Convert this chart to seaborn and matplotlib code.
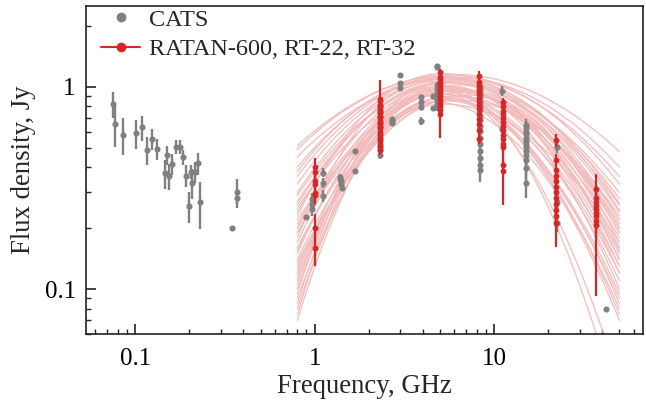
import numpy as np
import pandas as pd
import matplotlib
matplotlib.use("Agg")
import matplotlib.pyplot as plt
from matplotlib.lines import Line2D
from matplotlib.ticker import FixedLocator, FixedFormatter, LogLocator, NullFormatter
import seaborn as sns

# ---- CATS catalogue: low-frequency measurements (GHz, Jy) ----
cats_lf_freq = [0.0755, 0.0774, 0.0858, 0.1005, 0.109, 0.1166, 0.1243, 0.1325,
                0.1457, 0.1507, 0.154, 0.1606, 0.169, 0.1766, 0.184, 0.192,
                0.1995, 0.204, 0.2075, 0.2155, 0.223, 0.2309, 0.344, 0.37, 0.37]
cats_lf_flux = [0.821, 0.652, 0.577, 0.588, 0.630, 0.487, 0.551, 0.494,
                0.373, 0.458, 0.362, 0.415, 0.505, 0.505, 0.448, 0.363,
                0.258, 0.380, 0.335, 0.380, 0.418, 0.268, 0.201, 0.301, 0.283]
cats_lf_err = [0.12, 0.15, 0.12, 0.095, 0.09, 0.075, 0.065, 0.06,
               0.06, 0.05, 0.055, 0.05, 0.04, 0.04, 0.04, 0.045,
               0.045, 0.03, 0.055, 0.045, 0.05, 0.07, 0.0, 0.05, 0.02]

# ---- CATS catalogue: centimetre-band measurements (GHz, Jy) ----
cats_hf_freq = [0.89, 0.97, 0.97, 0.97, 1.11, 1.11, 1.11,
                1.39, 1.39, 1.40, 1.41, 1.42, 1.67, 1.67,
                2.3, 2.3, 2.3, 2.3, 2.3, 2.3, 2.3, 2.3, 2.3, 2.3,
                2.7, 2.7, 2.7, 3.0, 3.0, 3.0,
                3.9, 3.9, 3.9, 3.9, 4.55, 4.55,
                4.8, 4.8, 4.8, 4.8, 4.8, 4.8, 4.8, 4.8, 4.8,
                8.4, 8.4, 8.4, 8.4, 8.4, 8.4, 8.4, 8.4, 8.4, 8.4, 8.4, 8.4,
                8.4, 8.4, 8.4, 8.4, 8.4,
                11.1, 11.1,
                15.0, 15.0, 15.0, 15.0, 15.0, 15.0, 15.0, 15.0, 15.0, 15.0,
                15.0, 15.0, 15.0,
                22.5, 22.5, 22.5, 42.0]
cats_hf_flux = [0.228, 0.278, 0.262, 0.250, 0.376, 0.335, 0.288,
                0.359, 0.350, 0.342, 0.330, 0.317, 0.483, 0.383,
                0.80, 0.75, 0.71, 0.66, 0.63, 0.58, 0.55, 0.51, 0.486, 0.46,
                0.69, 0.675, 0.66, 1.14, 1.04, 0.99,
                0.892, 0.843, 0.79, 0.677, 0.902, 0.787,
                1.27, 1.25, 1.02, 0.97, 0.935, 0.90, 0.86, 0.82, 0.80,
                1.00, 0.965, 0.92, 0.885, 0.84, 0.80, 0.765, 0.72, 0.685, 0.64,
                0.605, 0.56, 0.52, 0.48, 0.445, 0.41, 0.387,
                0.952, 0.618,
                0.646, 0.625, 0.60, 0.585, 0.56, 0.54, 0.52, 0.505, 0.48,
                0.46, 0.434, 0.395, 0.333,
                0.501, 0.270, 0.211, 0.080]
cats_hf_err = [0.0, 0.02, 0.02, 0.02, 0.02, 0.02, 0.02,
               0.01, 0.01, 0.01, 0.01, 0.01, 0.0, 0.0,
               0.03, 0.03, 0.03, 0.03, 0.03, 0.03, 0.03, 0.03, 0.02, 0.02,
               0.01, 0.01, 0.01, 0.02, 0.02, 0.02,
               0.02, 0.02, 0.02, 0.03, 0.0, 0.0,
               0.02, 0.02, 0.04, 0.04, 0.04, 0.04, 0.04, 0.04, 0.04,
               0.04, 0.04, 0.04, 0.04, 0.04, 0.04, 0.04, 0.04, 0.04, 0.04,
               0.04, 0.04, 0.04, 0.04, 0.04, 0.04, 0.05,
               0.05, 0.03,
               0.05, 0.05, 0.05, 0.05, 0.05, 0.05, 0.05, 0.05, 0.05,
               0.05, 0.05, 0.05, 0.05,
               0.03, 0.02, 0.02, 0.0]

# ---- RATAN-600, RT-22 and RT-32 measurements (GHz, Jy) ----
ratan_freq = [1.0] * 8 + [2.3] * 20 + [5.0] * 14 + [8.2] * 15 + [11.2] * 14 \
    + [22.3] * 12 + [36.8] * 9
ratan_flux = [0.400, 0.377, 0.340, 0.330, 0.298, 0.292, 0.200, 0.160,
              0.870, 0.845, 0.815, 0.800, 0.775, 0.760, 0.738, 0.720, 0.705,
              0.680, 0.662, 0.641, 0.625, 0.598, 0.582, 0.560, 0.538, 0.520,
              0.505, 0.488,
              1.180, 1.120, 1.085, 1.050, 1.020, 0.990, 0.962, 0.930, 0.902,
              0.862, 0.830, 0.800, 0.770, 0.732,
              1.130, 1.060, 1.020, 0.985, 0.950, 0.918, 0.880, 0.852, 0.810,
              0.772, 0.733, 0.690, 0.652, 0.612, 0.551,
              0.837, 0.800, 0.762, 0.730, 0.701, 0.668, 0.640, 0.612, 0.580,
              0.553, 0.522, 0.505, 0.410, 0.384,
              0.545, 0.434, 0.387, 0.362, 0.340, 0.318, 0.300, 0.282, 0.262,
              0.245, 0.230, 0.211,
              0.311, 0.281, 0.270, 0.258, 0.249, 0.238, 0.229, 0.218, 0.207]
ratan_err = [0.045, 0.035, 0.03, 0.03, 0.035, 0.03, 0.035, 0.03,
             0.21, 0.04, 0.04, 0.04, 0.04, 0.04, 0.04, 0.04, 0.04,
             0.04, 0.04, 0.04, 0.04, 0.04, 0.04, 0.04, 0.04, 0.04,
             0.03, 0.03,
             0.04, 0.04, 0.04, 0.04, 0.04, 0.04, 0.04, 0.04, 0.04,
             0.04, 0.04, 0.04, 0.21, 0.04,
             0.07, 0.04, 0.04, 0.04, 0.04, 0.04, 0.04, 0.04, 0.04,
             0.04, 0.04, 0.04, 0.04, 0.04, 0.03,
             0.04, 0.04, 0.04, 0.04, 0.04, 0.04, 0.04, 0.04, 0.04,
             0.04, 0.04, 0.04, 0.04, 0.125,
             0.04, 0.03, 0.03, 0.03, 0.03, 0.03, 0.03, 0.03, 0.03,
             0.03, 0.03, 0.05,
             0.06, 0.04, 0.04, 0.04, 0.04, 0.04, 0.04, 0.04, 0.115]

# ---- curved spectral fits, one per epoch ----
# each fit: peak frequency / peak flux, and the fitted flux at both ends
# of the fitted band; log S is parabolic in log(nu) on either side of the peak
fit_band = (0.8, 50.0)
fit_peak_freq = [6.0, 5.5, 5.2, 5.8, 4.8, 5.0, 6.2, 5.4, 4.6, 5.6,
                 6.5, 5.1, 4.9, 5.3, 5.7, 6.0, 4.7, 5.5, 6.8, 5.2,
                 4.5, 5.9, 5.0, 6.3, 5.4, 4.8, 5.6, 6.1, 5.3, 4.4,
                 5.8, 6.6, 5.1, 4.9, 5.5, 7.0, 5.2, 4.6, 6.4, 5.7]
fit_peak_flux = [1.15, 1.12, 1.05, 1.10, 0.95, 1.00, 1.08, 0.98, 0.90, 1.06,
                 1.02, 0.92, 1.10, 0.88, 1.14, 0.96, 1.03, 0.85, 0.94, 1.09,
                 0.97, 0.90, 1.13, 0.86, 1.01, 0.93, 0.99, 1.11, 0.82, 0.99,
                 1.04, 0.89, 1.16, 0.87, 0.95, 0.91, 1.07, 0.84, 0.97, 1.00]
fit_flux_low = [0.51, 0.36, 0.24, 0.30, 0.17, 0.20, 0.27, 0.15, 0.12, 0.26,
                0.19, 0.11, 0.38, 0.09, 0.49, 0.21, 0.075, 0.14, 0.13, 0.40,
                0.085, 0.16, 0.18, 0.22, 0.105, 0.07, 0.155, 0.45, 0.19, 0.095,
                0.29, 0.125, 0.23, 0.10, 0.25, 0.135, 0.33, 0.08, 0.20, 0.115]
fit_flux_high = [0.477, 0.36, 0.20, 0.265, 0.13, 0.21, 0.245, 0.15, 0.09, 0.22,
                 0.17, 0.11, 0.30, 0.085, 0.33, 0.19, 0.025, 0.12, 0.16, 0.28,
                 0.07, 0.18, 0.14, 0.23, 0.10, 0.035, 0.155, 0.40, 0.17, 0.075,
                 0.24, 0.13, 0.20, 0.095, 0.22, 0.14, 0.26, 0.08, 0.19, 0.12]

GREY = "#808080"
RED = "#d62728"
PINK = "#f3bcbc"

sns.set_theme(style="ticks")
plt.rcParams["font.family"] = ["Liberation Serif", "DejaVu Serif"]
plt.rcParams["mathtext.fontset"] = "stix"

fig = plt.figure(figsize=(6.46, 4.05), dpi=100)
ax = fig.add_axes([0.1324, 0.1753, 0.995 - 0.1324, 0.985 - 0.1753])

# model spectra
nu = np.geomspace(*fit_band, 200)
rows = []
for i, (nup, sp, s_lo, s_hi) in enumerate(zip(fit_peak_freq, fit_peak_flux,
                                              fit_flux_low, fit_flux_high)):
    c_lo = np.log10(sp / s_lo) / np.log10(nup / fit_band[0]) ** 2
    c_hi = np.log10(sp / s_hi) / np.log10(fit_band[1] / nup) ** 2
    x = np.log10(nu / nup)
    s = sp * 10 ** (-np.where(x < 0, c_lo, c_hi) * x ** 2)
    rows.append(pd.DataFrame({"epoch": i, "freq": nu, "flux": s}))
fits = pd.concat(rows, ignore_index=True)
sns.lineplot(data=fits, x="freq", y="flux", units="epoch", estimator=None,
             color=PINK, lw=0.9, ax=ax, zorder=1, legend=False)

# CATS points
ax.errorbar(cats_lf_freq, cats_lf_flux, yerr=cats_lf_err, fmt="o", color=GREY,
            ms=3.4, elinewidth=1.7, capsize=0, zorder=3)
ax.errorbar(cats_hf_freq, cats_hf_flux, yerr=cats_hf_err, fmt="o", color=GREY,
            ms=3.4, elinewidth=1.7, capsize=0, zorder=3)

# RATAN-600 / RT-22 / RT-32 points
ax.errorbar(ratan_freq, ratan_flux, yerr=ratan_err, fmt="o", color=RED,
            ms=3.2, elinewidth=1.6, capsize=0, zorder=4)

ax.set_xscale("log")
ax.set_yscale("log")
ax.set_xlim(0.0528, 67.5)
ax.set_ylim(0.06, 2.5)

ax.xaxis.set_major_locator(FixedLocator([0.1, 1, 10]))
ax.xaxis.set_major_formatter(FixedFormatter(["0.1", "1", "10"]))
ax.yaxis.set_major_locator(FixedLocator([0.1, 1]))
ax.yaxis.set_major_formatter(FixedFormatter(["0.1", "1"]))
for axis in (ax.xaxis, ax.yaxis):
    axis.set_minor_locator(LogLocator(base=10, subs=np.arange(2, 10), numticks=20))
    axis.set_minor_formatter(NullFormatter())

ax.tick_params(which="both", direction="in", top=False, right=False,
               colors="#222222", labelcolor="black", labelsize=18)
ax.tick_params(axis="x", which="major", length=7.2, width=1.2, pad=10)
ax.tick_params(axis="y", which="major", length=7.2, width=1.2, pad=7)
ax.tick_params(which="minor", length=3.6, width=1.0)
for sp in ax.spines.values():
    sp.set_visible(True)
    sp.set_color("#222222")
    sp.set_linewidth(1.2)

ax.set_xlabel("Frequency, GHz", fontsize=19.3, labelpad=3)
ax.set_ylabel("Flux density, Jy", fontsize=19.3, labelpad=6)

handles = [
    Line2D([], [], color=GREY, marker="o", ls="none", ms=6),
    Line2D([], [], color=RED, marker="o", ls="-", lw=1.5, ms=6),
]
ax.legend(handles, ["CATS", "RATAN-600, RT-22, RT-32"], loc="upper left",
          bbox_to_anchor=(0.0214, 1.003), frameon=False, fontsize=17.5,
          handlelength=1.6, handletextpad=0.37, labelspacing=0.3,
          borderaxespad=0.0, borderpad=0.15)

fig.savefig("out.png", dpi=100)
